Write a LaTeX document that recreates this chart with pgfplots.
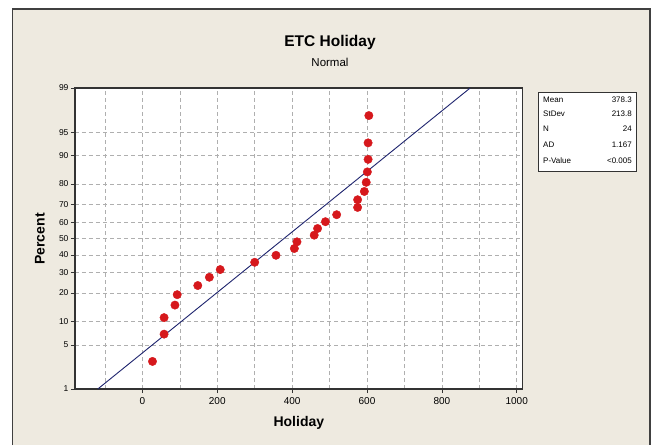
\documentclass[border=0pt]{standalone}
\usepackage{fontspec}
\setmainfont{Liberation Sans}
\usepackage{pgfplots}
\pgfplotsset{compat=1.18}

\definecolor{panel}{RGB}{238,234,224}
\definecolor{fitline}{RGB}{30,36,110}
\definecolor{dotred}{RGB}{214,24,28}
\definecolor{gridgray}{RGB}{175,175,175}

% x = Holiday, z = normal score of median rank (i-0.3)/(N+0.4)
\pgfplotstableread{
x    z
27   -1.9002
58   -1.4783
58   -1.2230
87   -1.0294
93   -0.8683
148  -0.7270
179  -0.5990
208  -0.4801
300  -0.3677
357  -0.2597
406  -0.1547
413  -0.0514
459   0.0514
468   0.1547
489   0.2597
519   0.3677
575   0.4801
575   0.5990
593   0.7270
598   0.8683
601   1.0294
603   1.2230
603   1.4783
605   1.9002
}\holiday

\begin{document}
\begin{tikzpicture}
\useasboundingbox (0pt,0pt) rectangle (654pt,445pt);
\fill[white] (0pt,0pt) rectangle (654pt,445pt);
\fill[panel] (12.5pt,0pt) rectangle (650pt,436pt);
\draw[black!75,line width=1.3pt] (12.5pt,0pt) -- (12.5pt,436pt) -- (650pt,436pt) -- (650pt,0pt);

\node[font=\bfseries\fontsize{15.5}{18}\selectfont] at (330pt,403pt) {ETC Holiday};
\node[font=\fontsize{11.5}{13}\selectfont] at (330pt,383pt) {Normal};

\begin{axis}[
    at={(75pt,56pt)}, anchor=south west,
    scale only axis,
    width=447.7pt, height=301pt,
    xmin=-180, xmax=1016,
    ymin=-2.3263, ymax=2.3263,
    axis background/.style={fill=white},
    axis line style={black!80, line width=1.3pt},
    xtick={0,200,400,600,800,1000},
    minor xtick={-100,100,300,500,700,900},
    ytick={-2.3263,-1.6449,-1.2816,-0.8416,-0.5244,-0.2533,0,0.2533,0.5244,0.8416,1.2816,1.6449,2.3263},
    yticklabels={1,5,10,20,30,40,50,60,70,80,90,95,99},
    tick align=outside,
    major tick length=4pt,
    minor tick length=0pt,
    tick style={black!80, line width=0.6pt},
    xtick pos=bottom, ytick pos=left,
    grid=both,
    major grid style={gridgray, dash pattern=on 4pt off 3pt, line width=0.6pt},
    minor grid style={gridgray, dash pattern=on 4pt off 3pt, line width=0.6pt},
    /pgf/number format/assume math mode=true,
    /pgf/number format/1000 sep={},
    xticklabel style={font=\fontsize{10}{12}\selectfont, yshift=-1pt},
    yticklabel style={font=\fontsize{8.5}{10}\selectfont, xshift=1pt},
    xlabel={Holiday},
    xlabel style={font=\bfseries\fontsize{14}{16}\selectfont, at={(axis description cs:0.5,0)}, anchor=center, yshift=-34pt},
    clip=true,
]
    \addplot[fitline, line width=0.9pt] coordinates {(-119.1,-2.3263) (875.7,2.3263)};
    \addplot[only marks, mark=*, mark size=4.2pt, mark options={fill=dotred, draw=dotred}] table[x=x, y=z] {\holiday};
\end{axis}

\node[font=\bfseries\fontsize{14}{16}\selectfont, rotate=90] at (40pt,206pt) {Percent};

\filldraw[fill=white, draw=black!80, line width=1pt] (538pt,273pt) rectangle (636pt,352pt);
\begin{scope}[every node/.style={font=\fontsize{8}{10}\selectfont, inner sep=0pt}]
\node[anchor=west] at (543pt,345pt) {Mean};
\node[anchor=west] at (543pt,331pt) {StDev};
\node[anchor=west] at (543pt,316pt) {N};
\node[anchor=west] at (543pt,300pt) {AD};
\node[anchor=west] at (543pt,284pt) {P-Value};
\node[anchor=east] at (632pt,345pt) {378.3};
\node[anchor=east] at (632pt,331pt) {213.8};
\node[anchor=east] at (632pt,316pt) {24};
\node[anchor=east] at (632pt,300pt) {1.167};
\node[anchor=east] at (632pt,284pt) {<0.005};
\end{scope}
\end{tikzpicture}
\end{document}
